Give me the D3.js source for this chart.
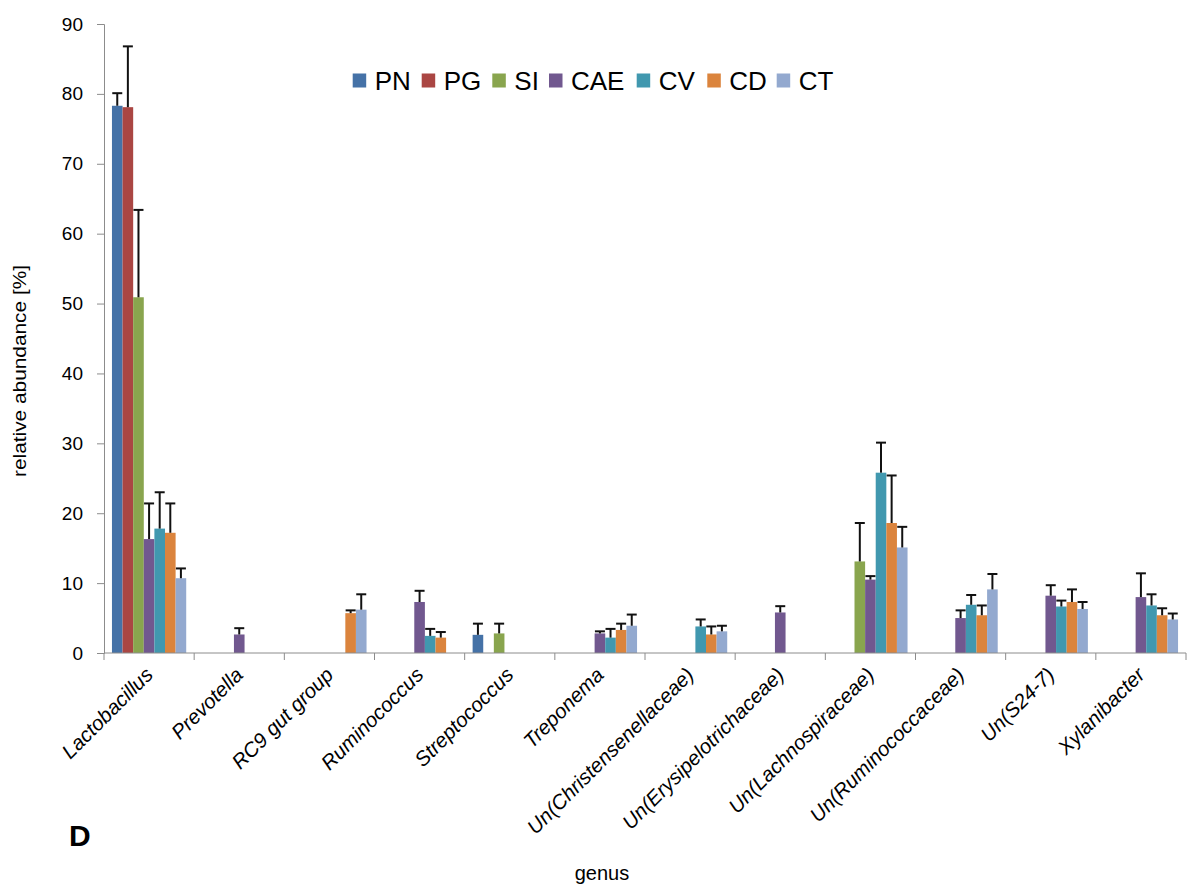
<!DOCTYPE html>
<html>
<head>
<meta charset="utf-8">
<script src="https://cdn.jsdelivr.net/npm/d3@7"></script>
<style>
  body { margin: 0; background: #fff; }
  text { font-family: "Liberation Sans", Arial, sans-serif; fill: #000; }
</style>
</head>
<body>
<svg id="chart" width="1188" height="889"></svg>
<script>
// genus categories on the x axis
var genera = ["Lactobacillus", "Prevotella", "RC9 gut group", "Ruminococcus", "Streptococcus",
    "Treponema", "Un(Christensenellaceae)", "Un(Erysipelotrichaceae)", "Un(Lachnospiraceae)",
    "Un(Ruminococcaceae)", "Un(S24-7)", "Xylanibacter"];

var groups = ["PN", "PG", "SI", "CAE", "CV", "CD", "CT"];
var colors = ["#4572a7", "#aa4643", "#89a54e", "#71588f", "#4198af", "#db843d", "#93a9cf"];

// mean values per group (null = no bar)
var PN  = [78.3, null, null, null, 2.6, null, null, null, null, null, null, null];
var PG  = [78.1, null, null, null, null, null, null, null, null, null, null, null];
var SI  = [50.9, null, null, null, 2.8, null, null, null, 13.1, null, null, null];
var CAE = [16.3, 2.65, null, 7.3, null, 2.8, null, 5.8, 10.5, 5.0, 8.2, 8.0];
var CV  = [17.8, null, null, 2.45, null, 2.2, 3.8, null, 25.8, 6.9, 6.65, 6.8];
var CD  = [17.2, null, 5.7, 2.2, null, 3.3, 2.65, null, 18.6, 5.4, 7.3, 5.4];
var CT  = [10.7, null, 6.2, null, null, 3.9, 3.1, null, 15.1, 9.1, 6.3, 4.8];

// top of the error bar per group
var PNerr  = [80.1, null, null, null, 4.2, null, null, null, null, null, null, null];
var PGerr  = [86.8, null, null, null, null, null, null, null, null, null, null, null];
var SIerr  = [63.4, null, null, null, 4.2, null, null, null, 18.6, null, null, null];
var CAEerr = [21.4, 3.55, null, 8.9, null, 3.1, null, 6.7, 11.0, 6.1, 9.7, 11.4];
var CVerr  = [23.0, null, null, 3.45, null, 3.45, 4.8, null, 30.1, 8.3, 7.5, 8.4];
var CDerr  = [21.4, null, 6.1, 3.0, null, 4.2, 3.8, null, 25.4, 6.8, 9.1, 6.4];
var CTerr  = [12.1, null, 8.4, null, null, 5.5, 3.9, null, 18.05, 11.3, 7.3, 5.65];

var yTicks = [0, 10, 20, 30, 40, 50, 60, 70, 80, 90];

var means = [PN, PG, SI, CAE, CV, CD, CT];
var errs = [PNerr, PGerr, SIerr, CAEerr, CVerr, CDerr, CTerr];

var svg = d3.select("#chart");
var plotLeft = 104, plotRight = 1186, plotTop = 24, plotBottom = 653;

var x0 = d3.scaleBand().domain(genera).range([plotLeft, plotRight]).padding(0);
var x1 = d3.scaleBand().domain(groups).range([0, x0.bandwidth()]).paddingOuter(0.75).paddingInner(0);
var y = d3.scaleLinear().domain([0, 90]).range([plotBottom, plotTop]);

// flatten into bar records
var bars = [];
groups.forEach(function (g, gi) {
    genera.forEach(function (c, ci) {
        if (means[gi][ci] != null) {
            bars.push({ genus: c, group: g, color: colors[gi], value: means[gi][ci], err: errs[gi][ci] });
        }
    });
});

svg.append("g").selectAll("rect")
    .data(bars)
    .enter()
    .append("rect")
    .attr("x", function (d) { return x0(d.genus) + x1(d.group); })
    .attr("y", function (d) { return y(d.value); })
    .attr("width", x1.bandwidth())
    .attr("height", function (d) { return y(0) - y(d.value); })
    .attr("fill", function (d) { return d.color; });

// error bars (upper only)
var eb = svg.append("g").attr("stroke", "#111").attr("stroke-width", 2);
bars.forEach(function (d) {
    if (d.err == null) return;
    var cx = x0(d.genus) + x1(d.group) + x1.bandwidth() / 2;
    eb.append("line").attr("x1", cx).attr("x2", cx).attr("y1", y(d.value)).attr("y2", y(d.err));
    eb.append("line").attr("x1", cx - 5).attr("x2", cx + 5).attr("y1", y(d.err)).attr("y2", y(d.err));
});

// y axis
var yAxis = svg.append("g")
    .attr("transform", "translate(" + plotLeft + ",0)")
    .call(d3.axisLeft(y).tickValues(yTicks).tickSize(7).tickPadding(14));
yAxis.select(".domain").attr("stroke", "#8c8c8c");
yAxis.selectAll(".tick line").attr("stroke", "#8c8c8c");
yAxis.selectAll(".tick text")
    .style("font-size", "19px")
    .style("font-family", "Liberation Sans, Arial, sans-serif")
    .style("fill", "#000");

// x axis with ticks at category boundaries
var xg = svg.append("g");
xg.append("line").attr("x1", plotLeft).attr("x2", plotRight).attr("y1", plotBottom).attr("y2", plotBottom)
    .attr("stroke", "#8c8c8c");
xg.selectAll("line.tk")
    .data(genera.concat(["end"]))
    .enter()
    .append("line")
    .attr("class", "tk")
    .attr("x1", function (d, i) { return i < genera.length ? x0(d) : plotRight; })
    .attr("x2", function (d, i) { return i < genera.length ? x0(d) : plotRight; })
    .attr("y1", plotBottom).attr("y2", plotBottom + 7)
    .attr("stroke", "#8c8c8c");

xg.selectAll("text")
    .data(genera)
    .enter()
    .append("text")
    .attr("transform", function (d) {
        return "translate(" + (x0(d) + x0.bandwidth() / 2) + "," + (plotBottom + 18) + ") rotate(-45)";
    })
    .attr("text-anchor", "end")
    .attr("dy", "0.35em")
    .style("font-size", "20.5px")
    .style("font-style", "italic")
    .text(function (d) { return d; });

// axis titles
svg.append("text")
    .attr("transform", "translate(26,371) rotate(-90)")
    .attr("text-anchor", "middle")
    .attr("textLength", 212)
    .attr("lengthAdjust", "spacingAndGlyphs")
    .style("font-size", "19px")
    .text("relative abundance [%]");

svg.append("text")
    .attr("x", 602).attr("y", 880)
    .attr("text-anchor", "middle")
    .style("font-size", "20px")
    .text("genus");

svg.append("text")
    .attr("x", 69).attr("y", 846)
    .style("font-size", "30px")
    .style("font-weight", "bold")
    .text("D");

// legend
var legendX = [352.7, 421.7, 492.3, 549, 636.7, 707.3, 776.7];
var legend = svg.append("g").selectAll("g")
    .data(groups)
    .enter()
    .append("g")
    .attr("transform", function (d, i) { return "translate(" + legendX[i] + ",73.5)"; });
legend.append("rect").attr("width", 13.5).attr("height", 14)
    .attr("fill", function (d, i) { return colors[i]; });
legend.append("text").attr("x", 22).attr("y", 16.5)
    .style("font-size", "26px")
    .text(function (d) { return d; });
</script>
</body>
</html>
